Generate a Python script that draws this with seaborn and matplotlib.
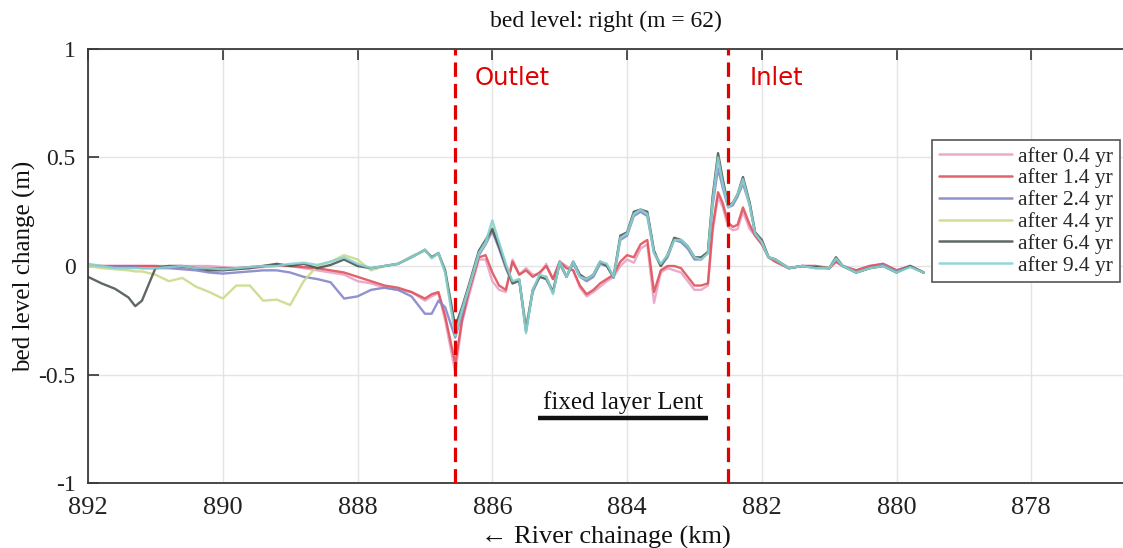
import numpy as np
import pandas as pd
import matplotlib
matplotlib.use("Agg")
import matplotlib.pyplot as plt
import seaborn as sns

# ---- data ----
km = [892.0, 891.8, 891.6, 891.4, 891.3, 891.2, 891.0, 890.8, 890.6, 890.4, 890.2, 890.0,
      889.8, 889.6, 889.4, 889.2, 889.0, 888.8, 888.6, 888.4, 888.2, 888.0, 887.8,
      887.6, 887.4, 887.2, 887.0,
      886.9, 886.8, 886.7, 886.55, 886.45, 886.35, 886.2, 886.1, 886.0,
      885.9, 885.8, 885.7, 885.6, 885.5, 885.4, 885.3, 885.2, 885.1, 885.0, 884.9, 884.8,
      884.7, 884.6, 884.5, 884.4, 884.3, 884.2, 884.1, 884.0, 883.9, 883.8, 883.7, 883.6,
      883.5, 883.4, 883.3, 883.2, 883.1, 883.0, 882.9, 882.8,
      882.73, 882.65, 882.58, 882.5, 882.43, 882.36, 882.28, 882.18, 882.1, 882.0, 881.9, 881.8,
      881.6, 881.4, 881.2, 881.0, 880.9, 880.8, 880.6, 880.4, 880.2, 880.0, 879.8, 879.6]

after_0_4 = [0.0, 0.0, 0.0, 0.0, 0.0, 0.0, 0.0, 0.0, 0.0, 0.0, 0.0, -0.005,
             -0.01, -0.01, -0.005, 0.0, 0.0, -0.01, -0.02, -0.03, -0.04, -0.07, -0.08,
             -0.1, -0.11, -0.12, -0.16,
             -0.14, -0.125, -0.25, -0.49, -0.26, -0.14, 0.03, 0.03, -0.07,
             -0.11, -0.12, 0.03, -0.04, -0.01, -0.04, -0.04, 0.01, -0.06, 0.02, 0.0, -0.02,
             -0.1, -0.14, -0.12, -0.095, -0.07, -0.05, 0.0, 0.03, 0.015, 0.08, 0.1, -0.17,
             -0.03, -0.01, -0.02, -0.03, -0.07, -0.11, -0.11, -0.09,
             0.16, 0.32, 0.27, 0.18, 0.165, 0.17, 0.25, 0.17, 0.14, 0.1, 0.04, 0.02,
             -0.01, 0.0, 0.0, -0.01, 0.02, 0.0, -0.02, 0.0, 0.01, -0.02, 0.0, -0.03]

after_1_4 = [0.0, 0.0, 0.0, 0.0, 0.0, 0.0, 0.0, -0.005, -0.005, -0.01, -0.01, -0.01,
             -0.01, -0.005, 0.0, 0.005, 0.0, -0.005, -0.01, -0.02, -0.03, -0.05, -0.07,
             -0.09, -0.1, -0.12, -0.15,
             -0.13, -0.12, -0.23, -0.45, -0.25, -0.12, 0.04, 0.05, -0.03,
             -0.09, -0.11, 0.02, -0.04, -0.02, -0.05, -0.03, 0.0, -0.06, 0.02, -0.01, -0.02,
             -0.09, -0.13, -0.11, -0.08, -0.06, -0.04, 0.02, 0.05, 0.04, 0.1, 0.12, -0.12,
             -0.02, 0.0, 0.0, -0.01, -0.05, -0.09, -0.09, -0.08,
             0.18, 0.34, 0.29, 0.2, 0.18, 0.19, 0.27, 0.19, 0.14, 0.1, 0.04, 0.02,
             -0.01, 0.0, 0.0, -0.01, 0.02, 0.0, -0.02, 0.0, 0.01, -0.02, 0.0, -0.03]

after_2_4 = [0.0, 0.0, -0.005, -0.005, -0.005, -0.01, -0.01, -0.01, -0.015, -0.02, -0.03, -0.035,
             -0.03, -0.025, -0.02, -0.02, -0.03, -0.05, -0.06, -0.075, -0.15, -0.14, -0.11,
             -0.1, -0.11, -0.14, -0.22,
             -0.22, -0.16, -0.19, -0.33, -0.22, -0.1, 0.05, 0.1, 0.16,
             0.08, -0.01, -0.08, -0.07, -0.28, -0.12, -0.05, -0.05, -0.12, 0.01, -0.05, 0.01,
             -0.05, -0.07, -0.05, 0.01, 0.0, -0.055, 0.12, 0.14, 0.23, 0.25, 0.23, 0.06,
             0.0, 0.04, 0.12, 0.11, 0.08, 0.03, 0.03, 0.06,
             0.28, 0.45, 0.36, 0.27, 0.28, 0.32, 0.38, 0.28, 0.15, 0.11, 0.04, 0.03,
             -0.01, 0.0, -0.01, -0.01, 0.03, 0.0, -0.03, -0.01, 0.005, -0.025, 0.0, -0.03]

after_4_4 = [0.0, -0.01, -0.015, -0.02, -0.025, -0.025, -0.04, -0.07, -0.055, -0.095, -0.12, -0.15,
             -0.09, -0.09, -0.16, -0.155, -0.18, -0.07, 0.0, 0.02, 0.05, 0.03, -0.02,
             0.0, 0.01, 0.045, 0.07,
             0.04, 0.055, -0.03, -0.3, -0.2, -0.1, 0.06, 0.11, 0.18,
             0.1, 0.0, -0.08, -0.06, -0.29, -0.11, -0.05, -0.05, -0.12, 0.02, -0.05, 0.02,
             -0.045, -0.06, -0.04, 0.02, 0.005, -0.05, 0.135, 0.15, 0.245, 0.26, 0.245, 0.065,
             0.0, 0.05, 0.125, 0.12, 0.09, 0.04, 0.035, 0.065,
             0.31, 0.5, 0.39, 0.28, 0.29, 0.33, 0.4, 0.29, 0.155, 0.115, 0.04, 0.03,
             -0.01, 0.0, -0.005, -0.01, 0.04, 0.0, -0.03, -0.01, 0.0, -0.03, 0.0, -0.03]

after_6_4 = [-0.05, -0.08, -0.105, -0.145, -0.185, -0.16, -0.01, 0.0, 0.0, -0.01, -0.02, -0.02,
             -0.015, -0.01, 0.0, 0.01, 0.0, 0.01, -0.01, 0.005, 0.03, 0.0, -0.01,
             0.0, 0.01, 0.04, 0.075,
             0.04, 0.06, -0.02, -0.28, -0.19, -0.09, 0.07, 0.12, 0.17,
             0.09, 0.0, -0.08, -0.065, -0.3, -0.11, -0.05, -0.06, -0.12, 0.02, -0.05, 0.02,
             -0.04, -0.06, -0.04, 0.02, 0.0, -0.05, 0.14, 0.155, 0.25, 0.26, 0.25, 0.07,
             0.0, 0.05, 0.13, 0.12, 0.09, 0.04, 0.04, 0.065,
             0.32, 0.52, 0.4, 0.28, 0.29, 0.33, 0.41, 0.29, 0.155, 0.12, 0.04, 0.03,
             -0.01, 0.0, -0.005, -0.01, 0.04, 0.0, -0.03, -0.01, 0.0, -0.03, 0.0, -0.03]

after_9_4 = [0.01, 0.0, -0.01, -0.01, -0.01, -0.01, -0.01, -0.005, 0.0, -0.01, -0.01, -0.015,
             -0.01, -0.005, 0.0, 0.0, 0.01, 0.015, 0.005, 0.02, 0.04, 0.01, -0.01,
             0.0, 0.01, 0.04, 0.075,
             0.035, 0.06, -0.03, -0.32, -0.2, -0.1, 0.06, 0.11, 0.21,
             0.11, 0.01, -0.07, -0.06, -0.31, -0.11, -0.04, -0.05, -0.13, 0.02, -0.05, 0.02,
             -0.05, -0.06, -0.04, 0.02, 0.01, -0.05, 0.13, 0.15, 0.24, 0.26, 0.24, 0.06,
             0.01, 0.05, 0.12, 0.12, 0.09, 0.04, 0.03, 0.06,
             0.3, 0.5, 0.38, 0.27, 0.29, 0.33, 0.4, 0.28, 0.15, 0.11, 0.04, 0.03,
             -0.01, 0.0, -0.01, -0.01, 0.035, 0.0, -0.03, -0.01, 0.0, -0.03, -0.005, -0.03]

series_labels = ["after 0.4 yr", "after 1.4 yr", "after 2.4 yr",
                 "after 4.4 yr", "after 6.4 yr", "after 9.4 yr"]
series_values = [after_0_4, after_1_4, after_2_4, after_4_4, after_6_4, after_9_4]
series_colors = ["#e8a2c6", "#e0525a", "#8486c8", "#c9dc8a", "#4e5753", "#86d2d4"]

x_ticks = [892, 890, 888, 886, 884, 882, 880, 878]
y_ticks = [-1, -0.5, 0, 0.5, 1]
y_tick_labels = ["-1", "-0.5", "0", "0.5", "1"]

outlet_km = 886.55
inlet_km = 882.5
fixed_layer = (885.32, 882.8)
fixed_layer_level = -0.70

# ---- long-form table ----
frames = []
for lab, vals in zip(series_labels, series_values):
    assert len(vals) == len(km), (lab, len(vals), len(km))
    frames.append(pd.DataFrame({"km": km, "dz": vals, "series": lab}))
df = pd.concat(frames, ignore_index=True)

sns.set_style("white")
plt.rcParams["font.family"] = ["Liberation Serif", "DejaVu Serif"]
plt.rcParams["axes.unicode_minus"] = False

fig = plt.figure(figsize=(11.23, 5.48), dpi=100)
ax = fig.add_axes([0.0784, 0.1186, 1.0 - 0.0784, 0.9106 - 0.1186])

sns.lineplot(data=df, x="km", y="dz", hue="series", hue_order=series_labels,
             palette=dict(zip(series_labels, series_colors)), sort=False,
             estimator=None, linewidth=1.7, alpha=0.9, ax=ax)

ax.set_xlim(892, 876.64)
ax.set_ylim(-1, 1)
ax.set_xticks(x_ticks)
ax.set_xticklabels([str(t) for t in x_ticks])
ax.set_yticks(y_ticks)
ax.set_yticklabels(y_tick_labels)
ax.grid(True, color="#e4e4e4", linewidth=1.0)
ax.set_axisbelow(True)

for side in ["left", "bottom", "top"]:
    ax.spines[side].set_visible(True)
    ax.spines[side].set_color("#3a3a3a")
    ax.spines[side].set_linewidth(1.3)
ax.spines["right"].set_visible(False)

ax.tick_params(axis="x", direction="in", length=8, width=1.1, top=True,
               labelsize=19, pad=10, colors="#222222")
ax.tick_params(axis="y", direction="in", length=8, width=1.1, left=True,
               labelsize=17, pad=9, colors="#222222")

ax.set_xlabel("\u2190 River chainage (km)", fontsize=19, labelpad=5, color="#111111")
ax.set_ylabel("bed level change (m)", fontsize=18, labelpad=2, color="#111111")
ax.set_title("bed level: right (m = 62)", fontsize=17, pad=16, color="#111111")

# outlet / inlet markers
for xv in [outlet_km, inlet_km]:
    ax.axvline(xv, color="#e00000", linewidth=2.3, linestyle=(0, (4.5, 2.2)), zorder=5)
ax.text(886.27, 0.865, "Outlet", color="#e00000", fontsize=17.5,
        family=["DejaVu Sans"], va="center", ha="left")
ax.text(882.18, 0.865, "Inlet", color="#e00000", fontsize=17.5,
        family=["DejaVu Sans"], va="center", ha="left")

# fixed layer
ax.plot(list(fixed_layer), [fixed_layer_level, fixed_layer_level], color="#111111",
        linewidth=3.2, solid_capstyle="butt")
ax.text(sum(fixed_layer) / 2, fixed_layer_level + 0.02, "fixed layer Lent",
        fontsize=18, ha="center", va="bottom", color="#111111")

handles, labels = ax.get_legend_handles_labels()
leg = ax.legend(handles, labels, loc="upper right", bbox_to_anchor=(0.997, 0.79),
                fontsize=15.5, frameon=True, fancybox=False, framealpha=1,
                edgecolor="#555555", handlelength=3.4, handletextpad=0.3,
                labelspacing=0.08, borderpad=0.3, borderaxespad=0)
leg.get_frame().set_linewidth(1.2)
for line in leg.get_lines():
    line.set_linewidth(1.8)

fig.savefig("out.png", dpi=100)
